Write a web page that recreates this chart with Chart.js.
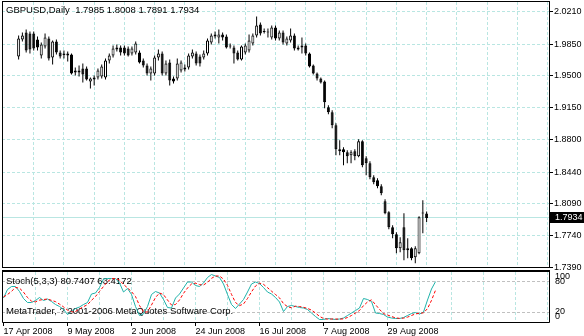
<!DOCTYPE html>
<html lang="en">
<head>
  <meta charset="UTF-8">
  <title>GBPUSD,Daily</title>
  <script src="https://cdn.jsdelivr.net/npm/chart.js"></script>
  <style>
    body { margin: 0; background: #fff; }
    #wrap { position: relative; width: 584px; height: 336px; overflow: hidden; }
    canvas { position: absolute; left: 0; }
    #price { top: 0; }
    #stoch { top: 268px; }
  </style>
</head>
<body>
<div id="wrap">
  <canvas id="price" width="584" height="272"></canvas>
  <canvas id="stoch" width="584" height="68"></canvas>
</div>

<script>
const symbol = 'GBPUSD,Daily';
const dateLabels = ['17 Apr 2008', '9 May 2008', '2 Jun 2008', '24 Jun 2008', '16 Jul 2008', '7 Aug 2008', '29 Aug 2008'];
const priceTicks = [1.7390, 1.7740, 1.8090, 1.8440, 1.8800, 1.9150, 1.9500, 1.9850, 2.0210];
const stochLevels = [0, 20, 80, 100];

// daily bars, 17 Apr 2008 onwards
const opens = [
  1.9715, 1.9902, 1.9979, 1.9968, 1.9968, 1.9902, 1.9726, 1.9825, 1.9913, 1.9704,
  1.9880, 1.9759, 1.9748, 1.9748, 1.9737, 1.9561, 1.9561, 1.9583, 1.9583, 1.9440,
  1.9484, 1.9484, 1.9495, 1.9484, 1.9671, 1.9726, 1.9792, 1.9814, 1.9814, 1.9803,
  1.9748, 1.9759, 1.9759, 1.9671, 1.9616, 1.9528, 1.9528, 1.9704, 1.9748, 1.9528,
  1.9649, 1.9473, 1.9473, 1.9561, 1.9572, 1.9594, 1.9715, 1.9748, 1.9715, 1.9704,
  1.9748, 1.9869, 1.9935, 1.9924, 1.9957, 1.9935, 1.9836, 1.9814, 1.9759, 1.9682,
  1.9759, 1.9781, 1.9858, 1.9946, 2.0067, 1.9996, 1.9979, 1.9924, 2.0034, 1.9913,
  1.9979, 1.9858, 1.9891, 1.9946, 1.9814, 1.9814, 1.9836, 1.9748, 1.9616, 1.9528,
  1.9473, 1.9440, 1.9154, 1.9099, 1.8956, 1.8692, 1.8692, 1.8659, 1.8626, 1.8670,
  1.8615, 1.8780, 1.8593, 1.8538, 1.8384, 1.8351, 1.8285, 1.8120, 1.7999, 1.7834,
  1.7757, 1.7603, 1.7834, 1.7603, 1.7603, 1.7504, 1.7548, 1.7991, 1.7985
];
const highs = [
  1.9946, 1.9979, 2.0012, 1.9990, 1.9990, 1.9935, 1.9869, 1.9968, 1.9935, 1.9891,
  1.9902, 1.9781, 1.9781, 1.9770, 1.9748, 1.9594, 1.9616, 1.9638, 1.9605, 1.9484,
  1.9506, 1.9583, 1.9627, 1.9693, 1.9748, 1.9836, 1.9847, 1.9836, 1.9836, 1.9825,
  1.9825, 1.9880, 1.9781, 1.9693, 1.9638, 1.9605, 1.9726, 1.9792, 1.9770, 1.9671,
  1.9682, 1.9495, 1.9693, 1.9671, 1.9627, 1.9748, 1.9792, 1.9770, 1.9737, 1.9781,
  1.9913, 1.9968, 1.9990, 2.0012, 1.9979, 1.9957, 1.9858, 1.9836, 1.9781, 1.9836,
  1.9858, 1.9957, 1.9968, 2.0155, 2.0089, 2.0023, 2.0023, 2.0056, 2.0056, 2.0001,
  2.0001, 1.9935, 2.0023, 1.9968, 1.9836, 1.9924, 1.9858, 1.9759, 1.9627, 1.9539,
  1.9484, 1.9451, 1.9176, 1.9121, 1.8978, 1.8791, 1.8714, 1.8681, 1.8681, 1.8692,
  1.8802, 1.8791, 1.8615, 1.8560, 1.8406, 1.8373, 1.8307, 1.8142, 1.8010, 1.7856,
  1.7779, 1.7724, 1.7988, 1.7713, 1.7614, 1.7625, 1.7955, 1.8131, 1.8008
];
const lows = [
  1.9682, 1.9880, 1.9759, 1.9748, 1.9781, 1.9781, 1.9693, 1.9803, 1.9671, 1.9627,
  1.9737, 1.9693, 1.9693, 1.9660, 1.9517, 1.9506, 1.9495, 1.9429, 1.9451, 1.9363,
  1.9396, 1.9462, 1.9473, 1.9462, 1.9638, 1.9704, 1.9770, 1.9726, 1.9726, 1.9715,
  1.9726, 1.9737, 1.9638, 1.9594, 1.9506, 1.9451, 1.9506, 1.9671, 1.9506, 1.9506,
  1.9396, 1.9418, 1.9451, 1.9539, 1.9550, 1.9572, 1.9693, 1.9616, 1.9605, 1.9682,
  1.9726, 1.9847, 1.9913, 1.9858, 1.9891, 1.9803, 1.9803, 1.9638, 1.9671, 1.9671,
  1.9737, 1.9759, 1.9836, 1.9924, 1.9946, 1.9968, 1.9924, 1.9902, 1.9891, 1.9891,
  1.9847, 1.9836, 1.9869, 1.9781, 1.9781, 1.9748, 1.9726, 1.9594, 1.9517, 1.9451,
  1.9418, 1.9143, 1.9077, 1.8923, 1.8626, 1.8626, 1.8516, 1.8538, 1.8538, 1.8571,
  1.8604, 1.8494, 1.8406, 1.8362, 1.8307, 1.8263, 1.8186, 1.7977, 1.7812, 1.7713,
  1.7548, 1.7559, 1.7471, 1.7493, 1.7471, 1.7438, 1.7537, 1.7768, 1.7891
];
const closes = [
  1.9913, 1.9946, 1.9781, 1.9792, 1.9803, 1.9814, 1.9847, 1.9924, 1.9693, 1.9880,
  1.9759, 1.9715, 1.9731, 1.9726, 1.9528, 1.9539, 1.9539, 1.9517, 1.9462, 1.9473,
  1.9462, 1.9561, 1.9605, 1.9671, 1.9726, 1.9803, 1.9814, 1.9759, 1.9748, 1.9726,
  1.9803, 1.9858, 1.9649, 1.9616, 1.9528, 1.9583, 1.9704, 1.9748, 1.9528, 1.9638,
  1.9451, 1.9440, 1.9638, 1.9649, 1.9594, 1.9726, 1.9759, 1.9638, 1.9638, 1.9748,
  1.9891, 1.9946, 1.9957, 1.9957, 1.9924, 1.9814, 1.9825, 1.9748, 1.9682, 1.9825,
  1.9836, 1.9891, 1.9946, 2.0056, 1.9968, 1.9985, 1.9990, 2.0034, 1.9913, 1.9979,
  1.9869, 1.9913, 1.9946, 1.9803, 1.9792, 1.9836, 1.9748, 1.9605, 1.9528, 1.9473,
  1.9429, 1.9209, 1.9099, 1.8956, 1.8692, 1.8670, 1.8659, 1.8615, 1.8659, 1.8615,
  1.8780, 1.8516, 1.8538, 1.8384, 1.8329, 1.8285, 1.8208, 1.7988, 1.7834, 1.7757,
  1.7603, 1.7669, 1.7581, 1.7581, 1.7493, 1.7603, 1.7944, 1.7984, 1.7934
];

// Stochastic(5,3,3): main and signal lines
const stochK = [
  48, 65, 71, 71, 61, 47, 39, 39, 43, 49,
  43, 46, 41, 35, 31, 25, 15, 21, 27, 30,
  35, 39, 56, 58, 69, 86, 87, 87, 87, 78,
  60, 67, 55, 31, 13, 16, 31, 55, 61, 58,
  45, 29, 28, 48, 56, 68, 80, 80, 73, 71,
  78, 89, 95, 92, 89, 76, 55, 35, 27, 36,
  45, 60, 76, 80, 77, 69, 60, 56, 49, 40,
  21, 31, 33, 31, 29, 28, 25, 18, 11, 5,
  5, 7, 6, 5, 6, 8, 13, 18, 23, 28,
  47, 45, 41, 18, 17, 15, 10, 8, 7, 7,
  9, 13, 17, 19, 16, 20, 44, 66, 80.7407
];
const stochD = [
  50, 55, 61.3, 69, 67.7, 59.7, 49, 41.7, 40.3, 43.7,
  45, 46, 43.3, 40.7, 35.7, 30.3, 23.7, 20.3, 21, 26,
  30.7, 34.7, 43.3, 51, 61, 71, 80.7, 86.7, 87, 84,
  75, 68.3, 60.7, 51, 33, 20, 20, 34, 49, 58,
  54.7, 44, 34, 35, 44, 57.3, 68, 76, 77.7, 74.7,
  74, 79.3, 87.3, 92, 92, 85.7, 73.3, 55.3, 39, 32.7,
  36, 47, 60.3, 72, 77.7, 75.3, 68.7, 61.7, 55, 48.3,
  36.7, 30.7, 28.3, 31.7, 31, 29.3, 27.3, 23.7, 18, 11.3,
  7, 5.7, 6, 6, 5.7, 6.3, 9, 13, 18, 23,
  32.7, 40, 44.3, 34.7, 25.3, 16.7, 14, 11, 8.3, 7.3,
  7.7, 9.7, 13, 16.3, 17.3, 18.3, 26.7, 43.3, 63.4172
];

const FONT = '"Liberation Sans", Arial, sans-serif';
const GRID = '#b9e6e2';
const DASH = [3, 2];
Chart.defaults.font.family = FONT;
Chart.defaults.font.size = 9;
Chart.defaults.color = '#000';

const last = closes.length - 1;
const bodies = closes.map((c, i) => ({ x: i, y: [opens[i], c] }));
const wicks = closes.map((c, i) => ({ x: i, y: [lows[i], highs[i]] }));

// 4 px per bar, bar 0 sits just inside the left frame
const X_MIN = -0.375, X_MAX = 136.375;

function barGrid(scale) {
  const t = [];
  for (let v = 0; v <= 136; v += 8) t.push({ value: v });
  scale.ticks = t;
}
function noPad(s) {
  s.paddingTop = 0; s.paddingBottom = 0; s.paddingLeft = 0; s.paddingRight = 0;
}

const priceDecor = {
  id: 'priceDecor',
  beforeDatasetsDraw(chart) {
    const { ctx, chartArea: a, scales } = chart;
    const y = Math.round(scales.y.getPixelForValue(closes[last])) - 0.5;
    ctx.save();
    ctx.strokeStyle = GRID;
    ctx.lineWidth = 1;
    ctx.beginPath();
    ctx.moveTo(a.left, y);
    ctx.lineTo(a.right, y);
    ctx.stroke();
    ctx.restore();
  },
  afterDraw(chart) {
    const { ctx, chartArea: a, scales } = chart;
    ctx.save();
    ctx.strokeStyle = '#000';
    ctx.lineWidth = 1;
    ctx.strokeRect(a.left + 0.5, a.top - 0.5, a.right - a.left, a.bottom - a.top);

    ctx.font = '9.5px ' + FONT;
    ctx.fillStyle = '#000';
    ctx.textBaseline = 'middle';
    ctx.fillText(symbol + '  ' + [opens[last], highs[last], lows[last], closes[last]]
      .map(v => v.toFixed(4)).join(' '), 6, 10);

    const y = Math.round(scales.y.getPixelForValue(closes[last]));
    ctx.fillRect(a.right + 1, y - 6, 35, 11);
    ctx.fillStyle = '#fff';
    ctx.font = '9px ' + FONT;
    ctx.fillText(closes[last].toFixed(4), a.right + 6, y);
    ctx.restore();
  }
};

new Chart(document.getElementById('price'), {
  type: 'bar',
  data: {
    datasets: [
      {
        data: bodies, order: 0, grouped: false, barThickness: 3, inflateAmount: 0,
        backgroundColor: c => closes[c.dataIndex] >= opens[c.dataIndex] ? '#fff' : '#000',
        borderColor: '#000', borderWidth: 1, borderSkipped: false, minBarLength: 1
      },
      {
        data: wicks, order: 1, grouped: false, barThickness: 1, inflateAmount: 0,
        backgroundColor: '#000', borderWidth: 0
      }
    ]
  },
  options: {
    responsive: false,
    animation: false,
    events: [],
    layout: { padding: { left: 2, top: 2, right: 0, bottom: 4 } },
    plugins: { legend: { display: false }, tooltip: { enabled: false } },
    scales: {
      x: {
        type: 'linear', min: X_MIN, max: X_MAX,
        afterBuildTicks: barGrid,
        afterFit: s => { s.height = 0; noPad(s); },
        ticks: { display: false },
        border: { display: false, dash: DASH },
        grid: { color: c => c.tick && c.tick.value === 0 ? 'rgba(0,0,0,0)' : GRID, drawTicks: false }
      },
      y: {
        position: 'right', min: 1.73845, max: 2.03147,
        afterBuildTicks: s => { s.ticks = priceTicks.map(v => ({ value: v })); },
        afterFit: s => { s.width = 35; noPad(s); },
        border: { display: false, dash: DASH },
        grid: { color: GRID, tickColor: '#000', tickLength: 4, tickBorderDash: [] },
        ticks: { padding: 1, callback: v => v.toFixed(4) }
      }
    }
  },
  plugins: [priceDecor]
});

const stochDecor = {
  id: 'stochDecor',
  beforeDatasetsDraw(chart) {
    const { ctx } = chart;
    ctx.save();
    ctx.font = '9.5px ' + FONT;
    ctx.fillStyle = '#000';
    ctx.textBaseline = 'middle';
    ctx.fillText('Stoch(5,3,3) ' + stochK[last].toFixed(4) + ' ' + stochD[last].toFixed(4), 6, 13);
    ctx.fillText('MetaTrader, ? 2001-2006 MetaQuotes Software Corp.', 6, 43);
    ctx.restore();
  },
  afterDraw(chart) {
    const { ctx, chartArea: a, scales } = chart;
    ctx.save();
    ctx.strokeStyle = '#000';
    ctx.lineWidth = 1;
    ctx.beginPath();
    ctx.moveTo(a.left + 0.5, a.top - 1);
    ctx.lineTo(a.left + 0.5, a.bottom + 0.5);
    ctx.lineTo(a.right + 0.5, a.bottom + 0.5);
    ctx.lineTo(a.right + 0.5, a.top - 1);
    ctx.stroke();
    ctx.lineWidth = 2;
    ctx.beginPath();
    ctx.moveTo(a.left, a.top - 1);
    ctx.lineTo(a.right + 1, a.top - 1);
    ctx.stroke();

    ctx.font = '9px ' + FONT;
    ctx.fillStyle = '#000';
    ctx.textBaseline = 'middle';
    stochLevels.forEach(v => {
      let y = scales.y.getPixelForValue(v);
      y = Math.min(Math.max(y, a.top + 5), a.bottom - 5);
      ctx.fillText(String(v), a.right + 6, y);
    });
    ctx.restore();
  }
};

new Chart(document.getElementById('stoch'), {
  type: 'line',
  data: {
    datasets: [
      {
        data: stochD.map((v, i) => ({ x: i, y: v })),
        borderColor: '#ff0000', borderWidth: 1, borderDash: [3, 2],
        pointRadius: 0, tension: 0, order: 0
      },
      {
        data: stochK.map((v, i) => ({ x: i, y: v })),
        borderColor: '#20b2aa', borderWidth: 1,
        pointRadius: 0, tension: 0, order: 1
      }
    ]
  },
  options: {
    responsive: false,
    animation: false,
    events: [],
    layout: { padding: { left: 2, top: 4, right: 0, bottom: 0 } },
    plugins: { legend: { display: false }, tooltip: { enabled: false } },
    scales: {
      x: {
        type: 'linear', min: X_MIN, max: X_MAX,
        afterBuildTicks: barGrid,
        afterFit: s => { s.height = 14; noPad(s); },
        border: { display: false, dash: DASH },
        grid: {
          color: c => c.tick && c.tick.value === 0 ? 'rgba(0,0,0,0)' : GRID,
          tickColor: c => c.tick && c.tick.value % 16 === 0 && c.tick.value / 16 < dateLabels.length ? '#000' : 'rgba(0,0,0,0)',
          tickLength: 4, tickBorderDash: []
        },
        ticks: {
          align: 'start', maxRotation: 0, autoSkip: false, padding: 0,
          callback: v => (v % 16 === 0 && v / 16 < dateLabels.length) ? dateLabels[v / 16] : ''
        }
      },
      y: {
        position: 'right', min: 0, max: 100,
        afterBuildTicks: s => { s.ticks = stochLevels.map(v => ({ value: v })); },
        afterFit: s => { s.width = 35; noPad(s); },
        border: { display: false, dash: DASH },
        grid: { color: c => c.tick && (c.tick.value === 20 || c.tick.value === 80) ? '#c0c0c0' : 'rgba(0,0,0,0)', drawTicks: false },
        ticks: { display: false }
      }
    }
  },
  plugins: [stochDecor]
});
</script>
</body>
</html>
